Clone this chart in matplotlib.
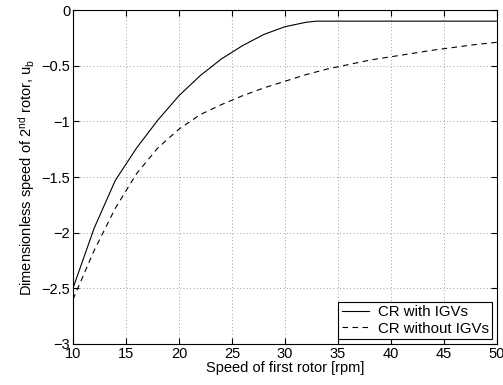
import matplotlib
matplotlib.use("Agg")
import matplotlib.pyplot as plt

plt.rcParams['font.family'] = ['Liberation Sans', 'DejaVu Sans']
plt.rcParams['mathtext.fontset'] = 'custom'
plt.rcParams['mathtext.rm'] = 'Liberation Sans'
plt.rcParams['mathtext.it'] = 'Liberation Sans'

# Data
speed_igv = [10, 12, 14, 16, 18, 20, 22, 24, 26, 28, 30, 32, 33, 35, 40, 45, 50]
ub_igv = [-2.5, -1.96, -1.53, -1.24, -0.99, -0.77, -0.59, -0.44, -0.32, -0.22, -0.15, -0.11, -0.1,
          -0.1, -0.1, -0.1, -0.1]

speed_no = [10, 12, 14, 16, 18, 20, 22, 24, 26, 28, 30, 32, 34, 36, 38, 40, 42, 44, 46, 48, 50]
ub_no = [-2.6, -2.16, -1.78, -1.47, -1.24, -1.07, -0.94, -0.85, -0.77, -0.7, -0.64, -0.58,
         -0.53, -0.49, -0.45, -0.42, -0.39, -0.36, -0.335, -0.31, -0.29]

fig = plt.figure(figsize=(5.03, 3.85), dpi=100)
ax = fig.add_axes([0.145, 0.1065, 0.843, 0.8675])

ax.plot(speed_igv, ub_igv, color='black', linewidth=0.8, label='CR with IGVs')
ax.plot(speed_no, ub_no, color='black', linewidth=0.8, linestyle=(0, (5, 4)), label='CR without IGVs')

ax.set_xlim(10, 50)
ax.set_ylim(-3, 0)
ax.set_xticks([10, 15, 20, 25, 30, 35, 40, 45, 50])
ax.set_yticks([-3, -2.5, -2, -1.5, -1, -0.5, 0])
ax.set_yticklabels(['\u22123', '\u22122.5', '\u22122', '\u22121.5', '\u22121', '\u22120.5', '0'])
ax.tick_params(direction='in', top=True, right=True, labelsize=10.5, length=4, pad=2)
ax.grid(True, linestyle=(0, (1, 3)), color='gray', linewidth=0.6)
for s in ax.spines.values():
    s.set_linewidth(0.8)

ax.set_xlabel('Speed of first rotor [rpm]', fontsize=10.5, labelpad=0)
ax.set_ylabel('Dimensionless speed of 2$^{nd}$ rotor, u$_b$', fontsize=10.5, labelpad=3)

leg = ax.legend(loc='lower right', fancybox=False, edgecolor='black', framealpha=1,
                fontsize=10.8, borderaxespad=0.3, handlelength=1.8, handletextpad=0.6,
                borderpad=0.25, labelspacing=0.15)
leg.get_frame().set_linewidth(0.8)

fig.savefig('out.png', dpi=100)
